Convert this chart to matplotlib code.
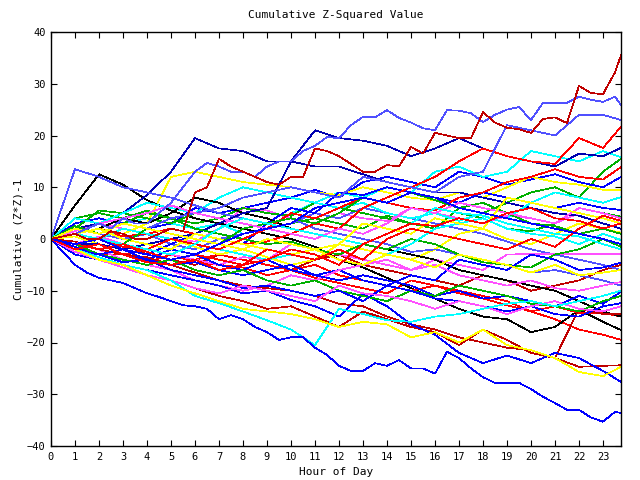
import matplotlib
matplotlib.use("Agg")
import matplotlib.pyplot as plt

# hour of day (last sample at 23:45)
hours = list(range(24)) + [23.75]
half_hours = [h / 2 for h in range(48)] + [23.75]

# cumulative (Z*Z)-1, one list per day
# the three outer days are read every half hour, the rest hourly
dr_top = [0, 0.5, 1, 0, 0, 1.5, 1, 0, 0, 1, 2, 1.5, 9, 10, 15.5, 14, 13, 12, 11, 10.5,
          12, 12, 17.5, 17, 16, 14.5, 13, 13, 14.3, 14, 17.8, 16.5, 20.5, 20, 19.5, 19.5,
          24.5, 22.5, 21.5, 21.2, 20.5, 23.2, 23.5, 22.4, 29.6, 28.2, 28, 32.2, 35.5]
lb_top = [0, 0.5, 1, 2, 3, 2, 4, 3, 3, 5, 7, 10, 13, 14.7, 14, 13, 13, 12, 14, 15,
          15, 17, 18, 19.7, 19.5, 22, 23.6, 23.5, 24.9, 23.4, 22.5, 21.4, 21, 24.9, 24.8, 24.3,
          22.6, 24, 25, 25.5, 23, 26.3, 26.3, 26.3, 27.5, 26.9, 26.5, 27.5, 25.9]
blue_bot1 = [0, -2.5, -5, -6.5, -7.5, -8, -8.5, -9.5, -10.5, -11.2, -12, -12.8, -13, -13.5, -15.5, -14.7,
             -15.5, -17, -18, -19.5, -19, -19, -21, -22.4, -24.5, -25.5, -25.5, -24, -24.5, -23.4, -25, -25,
             -26, -21.8, -23, -25, -26.7, -27.8, -27.8, -27.8, -29, -30.5, -31.7, -33, -33, -34.5, -35.3, -33.4, -33.6]

lb_2 = [0, 2, 1, 3, 2, 4, 5, 6, 8, 9, 10, 9, 8, 12, 11, 10, 9, 12, 13, 22, 21, 20, 24, 24, 23]
lb_3 = [0, 13.5, 12, 10, 9, 8, 6.5, 5, 4, 3, 4, 2, 1, 0, -1, -2.5, -2, -3, -4, -5, -6.5, -6, -7, -8, -9]
lb_4 = [0, 2, 1, 0, 1, -1, -2, 0, 1, 2, 3, 5, 4, 6, 5, 4, 3, 2, 1, -0.5, -2, -3, -4, -5, -6]
db_1 = [0, 2, 3, 5, 8.5, 13, 19.5, 17.5, 17, 15, 15, 14, 14, 12.5, 11, 10, 9, 9, 8, 7, 6, 5, 4.5, 3, 2]
db_2 = [0, -1, -1, -2, -1, 0, 1, 3, 5, 6, 15, 21, 19.5, 19, 18, 16, 17.5, 19.5, 17.5, 16, 15, 14, 16.5, 16, 17.6]
black_1 = [0, 6.5, 12.5, 10.5, 7.5, 5.5, 4, 3, 2, 1, 0, -1.5, -4, -5.5, -7.5, -9.5, -11.5, -13.5, -15, -15.5, -18, -17, -13.7, -16, -17.6]
black_2 = [0, 1, 2, 4, 3, 5, 8, 7, 5, 4, 2, 1, 0, -1, -2, -3, -4, -6, -7, -8, -9, -10, -12, -14, -15]
blue_bot2 = [0, -3, -4, -5, -6, -7, -8, -9, -10.5, -10, -11.8, -13, -15, -10.6, -13, -16.5, -18.5, -22, -24, -22.5, -24, -22, -23, -25.5, -27.6]
cyan_bot = [0, -2, -3.5, -5, -6, -8, -11, -12.4, -14, -15.7, -17.5, -20.5, -13.5, -14.5, -15.7, -16, -15, -14.5, -13.5, -12.5, -12, -13, -12, -11, -10]
yellow_bot = [0, -2, -4, -5, -7, -9, -10.5, -12, -13.5, -14, -14.5, -15.5, -17, -16, -16.5, -19, -18, -20, -17.5, -20.5, -21.5, -23, -25.7, -26.5, -24.7]
dr_bot = [0, -2, -3.5, -5, -6, -8, -9.5, -11, -12, -13.5, -13, -15, -17, -14, -15.5, -17, -18, -20.5, -17.5, -19.5, -22, -23, -24.7, -24.5, -24.4]
dr_jump = [0, -1, -2, -3, -3.5, -5, -6.5, -8, -9, -9.5, -10, -11, -12.5, -13, -15, -16.5, -17.5, -19, -20, -21, -21.5, -23, -13.5, -14.5, -14.5]
red_1 = [0, -1.5, -3, -3, -4.5, -3, -4.5, -5, -5.5, -7, -6, -7.5, -8.5, -9.5, -10.5, -8, -9, -10.5, -11.5, -12.8, -14, -15.5, -17.5, -18.5, -19.5]
red_2 = [0, -1, -2, -3, -2, -3, -4, -3, -4, -5, -6, -5, -7, -8, -9, -10, -9, -10, -11, -12, -14, -13, -14.3, -14.3, -15]
red_3 = [0, 1, 2, 0.5, 1, 2, 1, 0, -1, -0.5, 1, 3, 2, 6, 8, 10, 12, 15, 17.5, 16, 15, 14.5, 19.5, 17.6, 21.7]
red_4 = [0, -1, 0, -1.5, -2, 0, -1, -2, 0, 2, 5, 4, 6, 8, 7, 6, 5.5, 8, 9, 11, 12, 13.5, 12, 11.5, 13.9]
red_5 = [0, -1, -2, -1, -2.5, -4, -3, -4, -5, -2, -3, -4, -2, -4, 0, 2, 1, 0, -1, -2, 0, -1.5, 2, 4.5, 3.5]
red_6 = [0, -2, -1, -3, -4.5, -5, -4, -6, -5, -4, -2, -3, -5, -1, 1, 3, 2.5, 4, 3, 5, 6, 4, 3.5, 2, 3]
cyan_1 = [0, 2, 1, 3, 4, 3, 2, 3, 1, 2, 5, 7, 9, 8, 10, 9, 13, 14, 12, 13, 17, 16, 15, 17, 15.8]
cyan_2 = [0, 4, 3, 5, 7, 6, 5, 8, 10, 9, 8, 7, 6, 7, 5, 4, 5, 3.5, 5, 4, 7, 9, 8, 7, 8.1]
cyan_3 = [0, -1, 0, 2, 1, 0, -1, -2, -3, -4, -3, -2, -4, -5, -3, -1, 2, 3, 4, 2, 1, 0.5, -1, 1, -0.2]
cyan_4 = [0, 1, 0, -1, -2, -3, -1, 2, 4, 3, 2, 1, 0, -1, 1, 3, 6, 5, 4.5, 3, 2, 1, 0.5, -1, -2]
green_1 = [0, 4, 5, 4, 5.5, 4, 3, 4, 3, 2, 3, 4, 3, 2, 4.5, 3, 2, 6, 5, 7, 9, 10, 8, 13, 15.5]
green_2 = [0, 2, 5.5, 5, 4, 3, 5, 4, 6, 5, 4.5, 7, 6, 5, 4, 3, 6, 5, 4, 2, 1.5, 3, 6, 5, 4.3]
green_3 = [0, 2.5, 1, 3, 5, 4, 2, 1, 0, -1, -0.5, -2, -3, -1, -2, 0, -1, -3, -4.5, -5, -5.5, -3, -2, 0, -1.5]
green_4 = [0, -1, -2, -1, 2, 1, 0, -1, 2, 3, 4, 3, 5, 8, 7, 9, 7.5, 6, 7, 5, 3, 2.5, 1, 2, 1]
green_5 = [0, -1, -3, -4, -5, -4, -6, -7, -6, -8, -9, -8, -10, -11, -12, -10, -11, -9, -10, -11, -12.5, -13, -14, -12, -11]
blue_1 = [0, 3, 4, 3, 2, 3, 6, 5, 6, 7, 8, 9.5, 8, 11, 12, 11, 10, 13, 12, 10.5, 11.5, 12.5, 11, 10, 12]
blue_2 = [0, 1, -1, -2, -3, -1, 1, 0, -1, 3, 6, 5, 9, 8.5, 10, 9, 8, 7, 9, 8, 7, 6, 7, 6, 5.6]
blue_3 = [0, -2, -1, -3, -4, -2, -3, -5, -6, -4, -6, -7, -6, -8, -9, -7, -8, -4, -5, -6, -3, -4, -6, -5.5, -4.6]
blue_4 = [0, -1.5, -3, -2, -4, -5, -4.5, -6, -7, -6, -5, -7, -8, -7, -8, -9, -11, -10, -11.5, -11, -12, -13, -11, -12.5, -10.2]
blue_5 = [0, -2, -3, -4.5, -4, -6, -7, -8, -9.5, -9, -10, -11, -10, -12, -9, -10, -11.5, -12, -13, -14, -13, -14.5, -15, -13, -12.4]
blue_6 = [0, -1, 0, -2, -3, -4, -3, -1, 1, 2, 3, 6, 7, 8, 7, 9, 8, 6, 5, 4, 3, 2, 1, 0, -1]
yellow_1 = [0, 1, 2, 1, 3, 12, 13, 12, 11, 10.5, 10, 9, 8.5, 10, 9, 8, 7.5, 9, 8, 10, 12, 11, 10.5, 9.5, 9.5]
yellow_2 = [0, 0.5, -1, -2, -1, 0, -1.5, -3, -2, -3.5, -5, -4, -1, -2, -3, -4, -2, 1, 2, 0, -1, 1, 3, 2, 1.2]
yellow_3 = [0, 1, 2, 0, -1, -2, 1, 0, -1, -2, -3, -2, -4, -5, -3, -4, -5.5, -3, -4, -5, -6.5, -5, -7, -6.5, -6]
yellow_4 = [0, 2, 1, 3, 2, 1, 0, -1, -2, 0, -1, -2, -1, 3, 2, 1, 4, 3, 2, 8, 7, 6, 5, 4, 3]
mag_1 = [0, 1.5, 3, 2, 1, 0, -0.5, 2, 6, 5.5, 4, 3, 5, 4, 3.5, 6, 5, 4, 3, 4.5, 4, 3, 5, 4, 3.1]
mag_flat = [0, -1, 0.5, -1, -2, -3, -4, -5, -3.5, -4, -1, -2, -3, -4, -5, -6, -4, -5, -6, -3, -2.9, -2.9, -2.9, -2.9, -2.9]
mag_2 = [0, -1, -2, -4, -5, -6, -8, -9, -10, -9, -7, -8, -6, -5, -4, -6, -5, -7, -8, -9, -8, -9.5, -10, -9, -8.3]
mag_3 = [0, 1, 3, 4, 5, 6.5, 5, 4, 3, 2, 1, 0, 2, 1, 3, 6, 5, 7, 6, 5, 4, 3, 6, 5, 4]
mag_4 = [0, -2.5, -4, -5.5, -7, -8, -9.5, -10.5, -9, -10, -11, -12, -9, -10.5, -11, -12, -13.5, -12, -13, -14.5, -13, -12, -13.5, -14, -13]
dr_1 = [0, -0.5, -2, -1, -3, -4, -5, -3, -4, -5, -6, -4, -3, -5, -6, -7, -8, -9, -7, -8, -10, -9, -8, -6, -5]

series = [
    (hours, red_1, "#ff0000"), (hours, green_1, "#00b000"), (hours, blue_1, "#0000ff"),
    (hours, mag_1, "#ff50ff"), (hours, cyan_1, "#00ffff"), (hours, yellow_1, "#ffff00"),
    (hours, black_1, "#000000"), (hours, dr_1, "#c00000"), (hours, lb_4, "#5050ff"),
    (hours, db_1, "#0000b0"), (hours, red_2, "#ff0000"), (hours, green_2, "#00b000"),
    (hours, blue_2, "#0000ff"), (hours, mag_flat, "#ff50ff"), (hours, cyan_2, "#00ffff"),
    (hours, yellow_2, "#ffff00"), (hours, black_2, "#000000"), (hours, dr_bot, "#c00000"),
    (hours, lb_3, "#5050ff"), (hours, db_2, "#0000b0"), (hours, red_3, "#ff0000"),
    (hours, green_3, "#00b000"), (hours, blue_3, "#0000ff"), (hours, mag_2, "#ff50ff"),
    (hours, cyan_3, "#00ffff"), (hours, yellow_3, "#ffff00"), (hours, dr_jump, "#c00000"),
    (hours, lb_2, "#5050ff"), (hours, red_4, "#ff0000"), (hours, green_4, "#00b000"),
    (hours, blue_4, "#0000ff"), (hours, mag_3, "#ff50ff"), (hours, cyan_4, "#00ffff"),
    (hours, yellow_4, "#ffff00"), (hours, blue_bot2, "#0000ff"), (hours, red_5, "#ff0000"),
    (hours, green_5, "#00b000"), (hours, blue_5, "#0000ff"), (hours, mag_4, "#ff50ff"),
    (hours, cyan_bot, "#00ffff"), (hours, yellow_bot, "#ffff00"), (half_hours, blue_bot1, "#0000ff"),
    (hours, red_6, "#ff0000"), (hours, blue_6, "#0000ff"), (half_hours, lb_top, "#5050ff"),
    (half_hours, dr_top, "#c00000"),
]

mono = "DejaVu Sans Mono"
fig = plt.figure(figsize=(6.4, 4.8), dpi=100)
ax = fig.add_axes([51 / 640, 34 / 480, 570 / 640, 414 / 480])

for xs, vals, col in series:
    ax.plot(xs, vals, color=col, linewidth=0.5, antialiased=False)

ax.set_xlim(0, 23.75)
ax.set_ylim(-40, 40)
ax.set_xticks(range(24))
ax.set_yticks(range(-40, 41, 10))
ax.tick_params(direction="in", length=4, top=True, right=True, labelsize=7.5, pad=4)
for lab in ax.get_xticklabels() + ax.get_yticklabels():
    lab.set_family(mono)
for s in ax.spines.values():
    s.set_linewidth(1.0)

ax.set_title("Cumulative Z-Squared Value", fontsize=8, family=mono, pad=10)
ax.set_xlabel("Hour of Day", fontsize=8, family=mono, labelpad=4)
ax.set_ylabel("Cumulative (Z*Z)-1", fontsize=8, family=mono, labelpad=2)

fig.savefig("out.png", dpi=100)
